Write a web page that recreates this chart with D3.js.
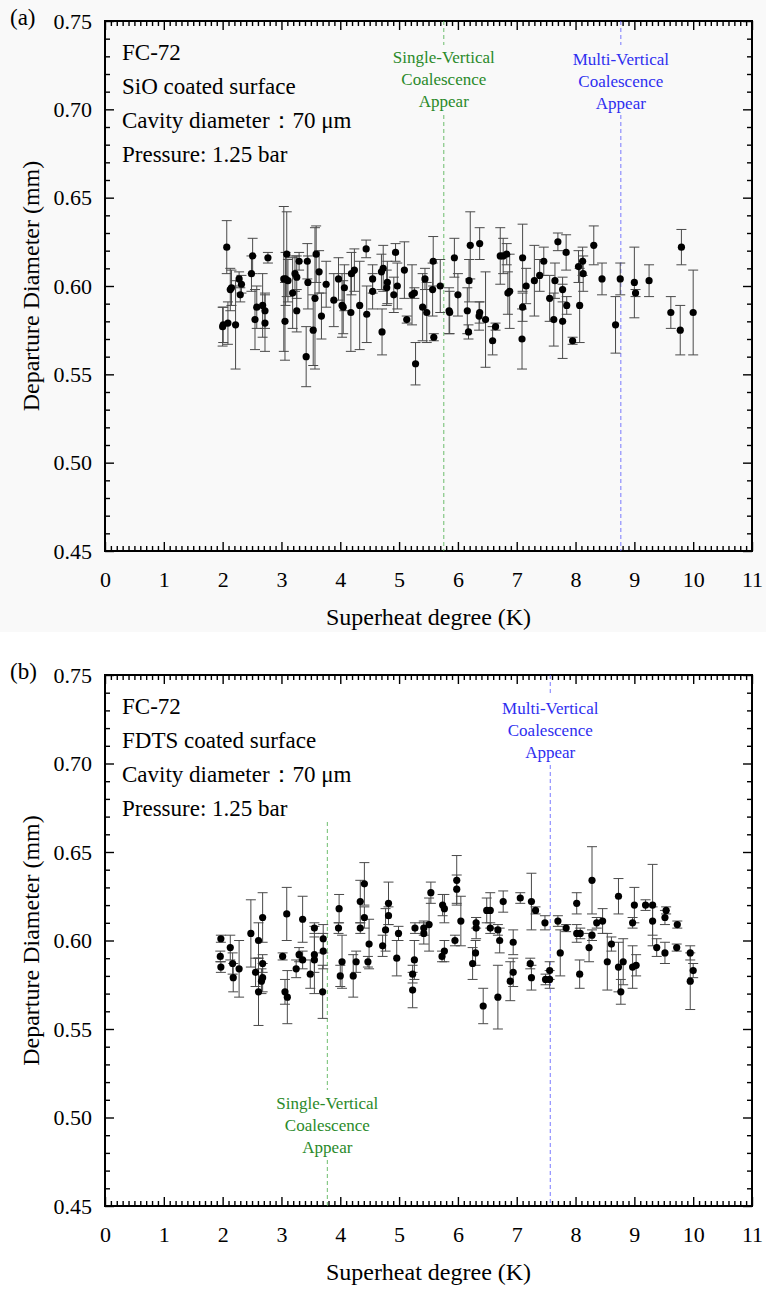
<!DOCTYPE html>
<html>
<head>
<meta charset="utf-8">
<script src="https://cdn.jsdelivr.net/npm/d3@7"></script>
<style>
  body { margin: 0; background: #fff; }
  svg text { font-family: "Liberation Serif", "Times New Roman", serif; }
</style>
</head>
<body>
<div id="chart"></div>
<script>
// [superheat K, departure diameter mm, error mm]
const pointsA = [
  [2.00,0.577,0.011],[2.01,0.578,0.010],[2.07,0.622,0.015],[2.09,0.579,0.012],[2.13,0.598,0.012],
  [2.15,0.599,0.010],[2.22,0.578,0.025],[2.28,0.604,0.004],[2.30,0.595,0.004],[2.32,0.601,0.005],
  [2.49,0.607,0.010],[2.51,0.617,0.010],[2.55,0.581,0.017],[2.58,0.588,0.012],[2.68,0.589,0.018],
  [2.72,0.586,0.010],[2.72,0.579,0.016],[2.77,0.616,0.003],[3.04,0.604,0.041],[3.06,0.580,0.022],
  [3.07,0.604,0.015],[3.09,0.618,0.024],[3.11,0.603,0.012],[3.19,0.596,0.020],[3.23,0.607,0.010],
  [3.26,0.605,0.012],[3.26,0.586,0.012],[3.30,0.614,0.005],[3.42,0.560,0.017],[3.44,0.614,0.010],
  [3.45,0.602,0.015],[3.54,0.575,0.020],[3.57,0.593,0.040],[3.59,0.618,0.016],[3.64,0.608,0.012],
  [3.68,0.583,0.013],[3.76,0.601,0.013],[3.89,0.592,0.015],[3.97,0.604,0.012],[4.03,0.589,0.018],
  [4.05,0.588,0.015],[4.07,0.599,0.013],[4.18,0.585,0.022],[4.19,0.607,0.012],[4.24,0.609,0.012],
  [4.33,0.589,0.025],[4.44,0.621,0.005],[4.45,0.584,0.016],[4.55,0.604,0.008],[4.55,0.597,0.010],
  [4.71,0.574,0.013],[4.70,0.608,0.010],[4.73,0.610,0.013],[4.80,0.602,0.012],[4.79,0.599,0.010],
  [4.91,0.595,0.010],[4.94,0.619,0.005],[4.97,0.600,0.013],[5.09,0.609,0.016],[5.13,0.581,0.002],
  [5.22,0.595,0.017],[5.26,0.596,0.003],[5.28,0.556,0.012],[5.40,0.588,0.019],[5.44,0.604,0.006],
  [5.47,0.585,0.017],[5.57,0.598,0.015],[5.58,0.614,0.014],[5.59,0.571,0.002],[5.70,0.600,0.015],
  [5.85,0.586,0.013],[5.86,0.585,0.012],[5.94,0.616,0.011],[6.00,0.595,0.012],[6.16,0.586,0.013],
  [6.18,0.574,0.004],[6.19,0.603,0.012],[6.21,0.623,0.019],[6.37,0.624,0.009],[6.36,0.583,0.008],
  [6.37,0.585,0.006],[6.47,0.581,0.027],[6.59,0.569,0.008],[6.64,0.577,0.002],[6.72,0.617,0.016],
  [6.77,0.617,0.010],[6.83,0.618,0.006],[6.85,0.596,0.012],[6.88,0.597,0.021],[7.09,0.570,0.017],
  [7.10,0.588,0.008],[7.10,0.616,0.019],[7.16,0.600,0.010],[7.30,0.603,0.020],[7.39,0.606,0.009],
  [7.46,0.614,0.008],[7.56,0.593,0.013],[7.63,0.581,0.015],[7.65,0.603,0.010],[7.70,0.625,0.005],
  [7.78,0.580,0.021],[7.78,0.598,0.007],[7.84,0.619,0.010],[7.85,0.589,0.005],[7.95,0.569,0.002],
  [8.05,0.611,0.009],[8.07,0.589,0.021],[8.12,0.614,0.008],[8.13,0.607,0.010],[8.31,0.623,0.011],
  [8.45,0.604,0.009],[8.68,0.578,0.016],[8.76,0.604,0.009],[9.00,0.602,0.020],[9.02,0.596,0.002],
  [9.25,0.603,0.009],[9.62,0.585,0.009],[9.80,0.622,0.010],[9.78,0.575,0.014],[10.0,0.585,0.024]
];

const pointsB = [
  [1.97,0.601,0.002],[1.96,0.591,0.003],[1.97,0.585,0.003],[2.13,0.596,0.007],[2.17,0.587,0.006],
  [2.18,0.579,0.008],[2.28,0.584,0.016],[2.48,0.604,0.019],[2.56,0.582,0.008],[2.61,0.600,0.010],
  [2.61,0.571,0.019],[2.66,0.577,0.007],[2.68,0.613,0.014],[2.68,0.587,0.005],[2.68,0.579,0.008],
  [3.02,0.591,0.002],[3.06,0.571,0.007],[3.09,0.615,0.015],[3.10,0.568,0.015],[3.25,0.584,0.005],
  [3.30,0.592,0.004],[3.36,0.612,0.013],[3.36,0.589,0.005],[3.49,0.581,0.008],[3.56,0.607,0.003],
  [3.56,0.592,0.010],[3.56,0.589,0.019],[3.70,0.571,0.015],[3.71,0.601,0.008],[3.71,0.594,0.010],
  [3.97,0.607,0.003],[3.98,0.618,0.008],[4.00,0.580,0.006],[4.03,0.588,0.015],[4.22,0.580,0.012],
  [4.27,0.588,0.006],[4.34,0.622,0.012],[4.34,0.607,0.003],[4.41,0.632,0.012],[4.41,0.613,0.006],
  [4.47,0.588,0.003],[4.49,0.598,0.014],[4.72,0.597,0.006],[4.77,0.606,0.012],[4.82,0.621,0.012],
  [4.82,0.614,0.005],[4.96,0.590,0.010],[4.99,0.604,0.004],[5.23,0.581,0.005],[5.23,0.572,0.010],
  [5.26,0.589,0.011],[5.27,0.607,0.003],[5.42,0.607,0.004],[5.42,0.604,0.006],[5.51,0.609,0.015],
  [5.54,0.627,0.006],[5.73,0.591,0.003],[5.74,0.620,0.006],[5.77,0.618,0.008],[5.77,0.594,0.006],
  [5.95,0.600,0.003],[5.98,0.634,0.014],[5.98,0.629,0.008],[6.05,0.611,0.014],[6.25,0.587,0.009],
  [6.30,0.593,0.007],[6.31,0.610,0.003],[6.31,0.607,0.006],[6.43,0.563,0.010],[6.49,0.617,0.007],
  [6.55,0.617,0.010],[6.55,0.607,0.003],[6.68,0.568,0.018],[6.68,0.606,0.003],[6.71,0.600,0.007],
  [6.77,0.622,0.006],[6.89,0.577,0.011],[6.94,0.582,0.008],[6.94,0.599,0.007],[7.06,0.624,0.003],
  [7.23,0.587,0.003],[7.25,0.622,0.016],[7.25,0.579,0.007],[7.32,0.617,0.002],[7.48,0.610,0.004],
  [7.49,0.578,0.003],[7.56,0.583,0.005],[7.56,0.578,0.005],[7.70,0.611,0.003],[7.74,0.593,0.013],
  [7.84,0.607,0.002],[8.02,0.621,0.006],[8.02,0.604,0.005],[8.07,0.581,0.008],[8.08,0.604,0.003],
  [8.23,0.596,0.008],[8.28,0.634,0.019],[8.28,0.603,0.003],[8.36,0.610,0.003],[8.46,0.611,0.007],
  [8.54,0.588,0.016],[8.61,0.598,0.004],[8.73,0.625,0.010],[8.73,0.585,0.014],[8.77,0.571,0.007],
  [8.81,0.588,0.013],[8.97,0.610,0.003],[8.97,0.585,0.012],[9.00,0.620,0.010],[9.03,0.586,0.006],
  [9.19,0.620,0.003],[9.31,0.620,0.023],[9.31,0.611,0.008],[9.38,0.596,0.005],[9.52,0.613,0.004],
  [9.54,0.617,0.002],[9.52,0.593,0.006],[9.72,0.596,0.002],[9.73,0.609,0.002],[9.95,0.593,0.004],
  [9.95,0.577,0.016],[10.0,0.583,0.004]
];

const xTicks = d3.range(0, 12);
const yTicks = [0.45, 0.50, 0.55, 0.60, 0.65, 0.70, 0.75];
const infoA = ['FC-72', 'SiO coated surface', 'Cavity diameter\uFF1A70 \u03BCm', 'Pressure: 1.25 bar'];
const infoB = ['FC-72', 'FDTS coated surface', 'Cavity diameter\uFF1A70 \u03BCm', 'Pressure: 1.25 bar'];
const singleLabel = ['Single-Vertical', 'Coalescence', 'Appear'];
const multiLabel = ['Multi-Vertical', 'Coalescence', 'Appear'];
// onset superheat of each coalescence mode
const onsetA = { single: 5.76, multi: 8.77 };
const onsetB = { single: 3.78, multi: 7.57 };

const W = 766, H = 1289;
const left = 105, right = 752;
const green = '#2a8a2a', blue = '#2e2ef0';

const svg = d3.select('#chart').append('svg').attr('width', W).attr('height', H);
svg.append('rect').attr('width', W).attr('height', 632).attr('fill', '#f9f9f9');

function drawPanel(cfg) {
  const { top, bottom, data, info, tag, onset } = cfg;
  const x = d3.scaleLinear().domain([0, 11]).range([left, right]);
  const y = d3.scaleLinear().domain([0.45, 0.75]).range([bottom, top]);
  const g = svg.append('g');

  // minor ticks
  const xMinor = d3.range(0, 110).map(d => d / 10).filter(d => Math.abs(d - Math.round(d)) > 1e-6);
  const yMinor = d3.range(45, 76).map(d => d / 100).filter(d => Math.round(d * 100) % 5 !== 0);
  const minor = (axis, vals) => axis.tickValues(vals).tickSize(-5).tickSizeOuter(0).tickFormat('');

  g.append('g').attr('transform', `translate(0,${bottom})`).call(minor(d3.axisBottom(x), xMinor));
  g.append('g').attr('transform', `translate(0,${top})`).call(minor(d3.axisTop(x), xMinor));
  g.append('g').attr('transform', `translate(${left},0)`).call(minor(d3.axisLeft(y), yMinor));
  g.append('g').attr('transform', `translate(${right},0)`).call(minor(d3.axisRight(y), yMinor));

  g.append('g').attr('transform', `translate(0,${bottom})`)
    .call(d3.axisBottom(x).tickValues(xTicks).tickSize(-9).tickSizeOuter(0).tickPadding(20).tickFormat(d3.format('d')));
  g.append('g').attr('transform', `translate(0,${top})`)
    .call(d3.axisTop(x).tickValues(xTicks).tickSize(-9).tickSizeOuter(0).tickFormat(''));
  g.append('g').attr('transform', `translate(${left},0)`)
    .call(d3.axisLeft(y).tickValues(yTicks).tickSize(-9).tickSizeOuter(0).tickPadding(13).tickFormat(d3.format('.2f')));
  g.append('g').attr('transform', `translate(${right},0)`)
    .call(d3.axisRight(y).tickValues(yTicks).tickSize(-9).tickSizeOuter(0).tickFormat(''));

  g.selectAll('.domain').remove();
  g.selectAll('.tick line').attr('stroke', '#000').attr('stroke-width', 1.4);
  g.selectAll('.tick text').attr('fill', '#000').style('font-size', '22px')
    .style('font-family', '"Liberation Serif", "Times New Roman", serif');

  g.append('rect').attr('x', left).attr('y', top).attr('width', right - left).attr('height', bottom - top)
    .attr('fill', 'none').attr('stroke', '#000').attr('stroke-width', 2);

  // dashed onset lines, broken around their labels
  const dash = (v, color, segs) => segs.forEach(([a, b]) => {
    g.append('line').attr('x1', x(v)).attr('x2', x(v)).attr('y1', top + a).attr('y2', Math.min(top + b, bottom))
      .attr('stroke', color).attr('stroke-width', 1).attr('stroke-dasharray', '4,3').attr('opacity', 0.8);
  });
  const label = (v, color, lines, base) => lines.forEach((t, i) => {
    g.append('text').attr('x', x(v)).attr('y', top + base + i * 22).attr('text-anchor', 'middle')
      .attr('fill', color).style('font-size', '17px').text(t);
  });
  dash(onset.single, '#4caf4c', cfg.singleSegs);
  dash(onset.multi, '#5a5aff', cfg.multiSegs);
  label(onset.single, green, singleLabel, cfg.singleBase);
  label(onset.multi, blue, multiLabel, cfg.multiBase);

  // info block
  info.forEach((t, i) => {
    g.append('text').attr('x', 122).attr('y', top + 39 + i * 34).style('font-size', '23px').text(t);
  });

  // error bars
  const bars = g.append('g').attr('stroke', '#4a4a4a').attr('stroke-width', 1);
  data.forEach(([sx, d, e]) => {
    const cx = x(sx), y0 = y(d - e), y1 = y(d + e);
    bars.append('line').attr('x1', cx).attr('x2', cx).attr('y1', y0).attr('y2', y1);
    bars.append('line').attr('x1', cx - 5).attr('x2', cx + 5).attr('y1', y0).attr('y2', y0);
    bars.append('line').attr('x1', cx - 5).attr('x2', cx + 5).attr('y1', y1).attr('y2', y1);
  });
  g.append('g').selectAll('circle').data(data).enter().append('circle')
    .attr('cx', d => x(d[0])).attr('cy', d => y(d[1])).attr('r', 3.6).attr('fill', '#000');

  // titles
  svg.append('text').attr('x', 10).attr('y', top + 4).style('font-size', '23px').text(tag);
  svg.append('text').attr('x', (left + right) / 2).attr('y', bottom + 74).attr('text-anchor', 'middle')
    .style('font-size', '24px').text('Superheat degree (K)');
  svg.append('text').attr('transform', `translate(39,${(top + bottom) / 2}) rotate(-90)`)
    .attr('text-anchor', 'middle').style('font-size', '24px').text('Departure Diameter (mm)');
}

drawPanel({
  top: 21, bottom: 551, data: pointsA, info: infoA, tag: '(a)', onset: onsetA,
  singleSegs: [[0, 24], [94, 600]], multiSegs: [[0, 24], [94, 600]],
  singleBase: 42, multiBase: 44
});
drawPanel({
  top: 675, bottom: 1206, data: pointsB, info: infoB, tag: '(b)', onset: onsetB,
  singleSegs: [[147, 415], [485, 600]], multiSegs: [[0, 20], [90, 600]],
  singleBase: 434, multiBase: 39
});
</script>
</body>
</html>
